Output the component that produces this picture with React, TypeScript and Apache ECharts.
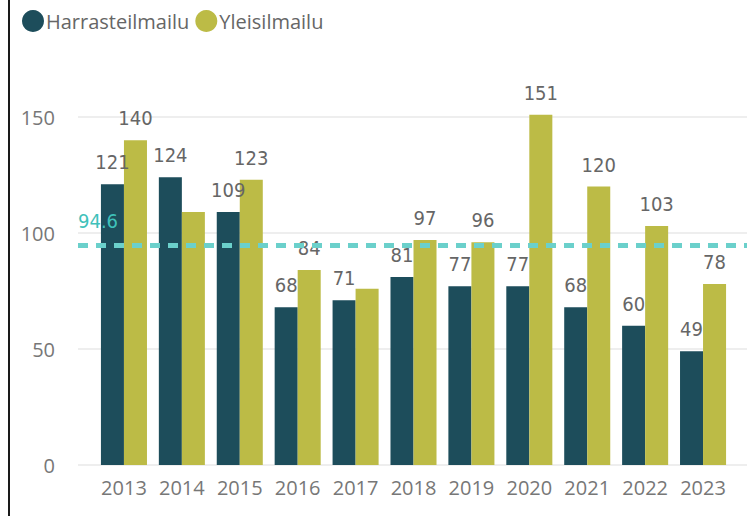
import React, { useEffect, useRef } from "react";
import * as echarts from "echarts";

const years = ["2013", "2014", "2015", "2016", "2017", "2018", "2019", "2020", "2021", "2022", "2023"];
const harrasteilmailu = [121, 124, 109, 68, 71, 81, 77, 77, 68, 60, 49];
const yleisilmailu = [140, 109, 123, 84, 76, 97, 96, 151, 120, 103, 78];
// Power BI hid the overlapping labels of these points
const yleisHiddenLabels = ["2014", "2017"];
const averageValue = 94.6;
const yTicks = { min: 0, max: 150, interval: 50 };

const DARK = "#1D4D5B";
const OLIVE = "#BCBB46";
const TEAL = "#6BD0CB";
const LABEL_FONT = "'DejaVu Sans Condensed', 'DejaVu Sans', sans-serif";
const AXIS_FONT = "'Open Sans', sans-serif";

export default function App() {
  const ref = useRef<HTMLDivElement>(null);

  useEffect(() => {
    document.body.style.margin = "0";
    const chart = echarts.init(ref.current!, null, { renderer: "svg" });
    const labelStyle = {
      show: true,
      position: "top" as const,
      distance: 12,
      color: "#666666",
      fontSize: 20,
      fontFamily: LABEL_FONT,
    };
    chart.setOption({
      animation: false,
      backgroundColor: "#ffffff",
      legend: {
        left: 22,
        top: 10,
        icon: "circle",
        itemWidth: 22,
        itemHeight: 22,
        itemGap: 6,
        padding: 0,
        textStyle: { color: "#666666", fontSize: 20, fontFamily: AXIS_FONT, padding: [0, 0, 0, -3] },
        data: ["Harrasteilmailu", "Yleisilmailu"],
      },
      grid: [
        { left: 78, right: 0, top: 117, bottom: 51 },
        { left: 95, right: 15, top: 117, bottom: 51 },
      ],
      xAxis: [
        { type: "value", gridIndex: 0, min: 0, max: 1, show: false },
        {
          type: "category",
          gridIndex: 1,
          data: years,
          axisLine: { show: false },
          axisTick: { show: false },
          axisLabel: { color: "#777777", fontSize: 20, fontFamily: AXIS_FONT, margin: 12, interval: 0 },
        },
      ],
      yAxis: [
        {
          type: "value",
          gridIndex: 0,
          min: yTicks.min,
          max: yTicks.max,
          interval: yTicks.interval,
          axisLine: { show: false },
          axisTick: { show: false },
          axisLabel: { color: "#777777", fontSize: 20, fontFamily: AXIS_FONT, margin: 23 },
          splitLine: { lineStyle: { color: "#E8E8E8", width: 1.5 } },
        },
        {
          type: "value",
          gridIndex: 1,
          min: yTicks.min,
          max: yTicks.max,
          interval: yTicks.interval,
          show: false,
          splitLine: { show: false },
        },
      ],
      graphic: [
        {
          type: "rect",
          shape: { x: 8, y: 0, width: 2, height: 516 },
          style: { fill: "#1a1a1a" },
        },
      ],
      series: [
        {
          type: "line",
          xAxisIndex: 0,
          yAxisIndex: 0,
          data: [],
          silent: true,
          markLine: {
            symbol: "none",
            silent: true,
            lineStyle: { color: TEAL, type: [10, 8], width: 5 },
            label: {
              show: true,
              position: "insideStartTop",
              formatter: String(averageValue),
              color: "#3FC1BA",
              fontSize: 20,
              fontFamily: LABEL_FONT,
              distance: [0, 15],
            },
            data: [{ yAxis: averageValue }],
          },
        },
        {
          name: "Harrasteilmailu",
          type: "bar",
          xAxisIndex: 1,
          yAxisIndex: 1,
          data: harrasteilmailu,
          itemStyle: { color: DARK },
          barGap: 0,
          barCategoryGap: "20.5%",
          clip: false,
          label: labelStyle,
        },
        {
          name: "Yleisilmailu",
          type: "bar",
          xAxisIndex: 1,
          yAxisIndex: 1,
          data: yleisilmailu.map((v, i) => ({
            value: v,
            label: { show: !yleisHiddenLabels.includes(years[i]) },
          })),
          itemStyle: { color: OLIVE },
          barGap: 0,
          barCategoryGap: "20.5%",
          clip: false,
          label: labelStyle,
        },
      ],
    });
    return () => chart.dispose();
  }, []);

  return <div ref={ref} style={{ width: 747, height: 516 }} />;
}
